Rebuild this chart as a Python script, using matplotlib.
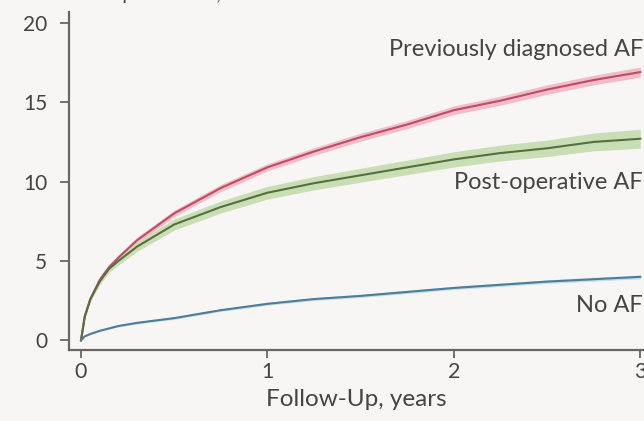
import numpy as np
import matplotlib.pyplot as plt

plt.rcParams['font.family'] = ['Lato', 'DejaVu Sans']

# cumulative incidence curves, % vs years of follow-up
years = [0, 0.02, 0.05, 0.1, 0.15, 0.2, 0.3, 0.5, 0.75, 1.0, 1.25, 1.5, 1.75, 2.0, 2.25, 2.5, 2.75, 3.0]
prev_af = [0, 1.5, 2.6, 3.8, 4.6, 5.2, 6.3, 8.0, 9.6, 10.9, 11.9, 12.8, 13.6, 14.5, 15.1, 15.8, 16.4, 16.9]
postop_af = [0, 1.5, 2.6, 3.7, 4.5, 5.0, 5.9, 7.3, 8.4, 9.3, 9.9, 10.4, 10.9, 11.4, 11.8, 12.1, 12.5, 12.7]
no_af = [0, 0.25, 0.4, 0.6, 0.75, 0.9, 1.1, 1.4, 1.9, 2.3, 2.6, 2.8, 3.05, 3.3, 3.5, 3.7, 3.85, 4.0]

# half-width of the confidence bands
prev_ci = [0, 0.1, 0.15, 0.2, 0.2, 0.2, 0.2, 0.2, 0.22, 0.22, 0.24, 0.25, 0.25, 0.27, 0.28, 0.3, 0.3, 0.32]
postop_ci = [0, 0.1, 0.15, 0.2, 0.22, 0.25, 0.3, 0.35, 0.38, 0.4, 0.42, 0.44, 0.46, 0.48, 0.5, 0.52, 0.56, 0.6]
no_ci = [0, 0.03, 0.05, 0.05, 0.05, 0.06, 0.07, 0.08, 0.08, 0.09, 0.09, 0.1, 0.1, 0.1, 0.11, 0.11, 0.12, 0.12]

labels = ["Previously diagnosed AF", "Post-operative AF", "No AF"]
label_y = [18.3, 9.95, 2.2]
xticks = [0, 1, 2, 3]
yticks = [0, 5, 10, 15, 20]

bg = '#f7f6f4'
txt = '#444444'

fig = plt.figure(figsize=(6.44, 4.21), dpi=100, facecolor=bg)
ax = fig.add_axes([0.107, 0.169, 0.893, 0.803], facecolor=bg)

t = np.array(years)
series = [
    (prev_af, prev_ci, '#bd4d66', '#f1bcc6'),
    (postop_af, postop_ci, '#55703e', '#cadeb6'),
    (no_af, no_ci, '#4f7d98', '#c2dcea'),
]
for vals, ci, line_c, band_c in series:
    v = np.array(vals)
    c = np.array(ci)
    ax.fill_between(t, v - c, v + c, color=band_c, lw=0)
    ax.plot(t, v, color=line_c, lw=1.5)

for lab, yy in zip(labels, label_y):
    ax.text(3.015, yy, lab, ha='right', va='center', fontsize=17, color=txt)

ax.set_xlim(-0.065, 3.02)
ax.set_ylim(-0.6, 20.7)
ax.set_xticks(xticks)
ax.set_yticks(yticks)
ax.tick_params(axis='y', length=6.5, width=1.3, color='#666666', labelsize=15,
               labelcolor=txt, pad=9)
ax.tick_params(axis='x', length=6, width=1.3, color='#666666', labelsize=15.5,
               labelcolor=txt, pad=3)
ax.set_xlabel("Follow-Up, years", fontsize=17.5, color=txt, labelpad=5)

for s in ['top', 'right']:
    ax.spines[s].set_visible(False)
for s in ['left', 'bottom']:
    ax.spines[s].set_color('#666666')
    ax.spines[s].set_linewidth(1.6)

# y-axis title sits above the plot, mostly cut off by the top edge
fig.text(0.375, 1.012, "Heart Failure Hospitalization, %", ha='right', va='center',
         fontsize=14, color=txt)

fig.savefig('out.png', dpi=100, facecolor=bg)
